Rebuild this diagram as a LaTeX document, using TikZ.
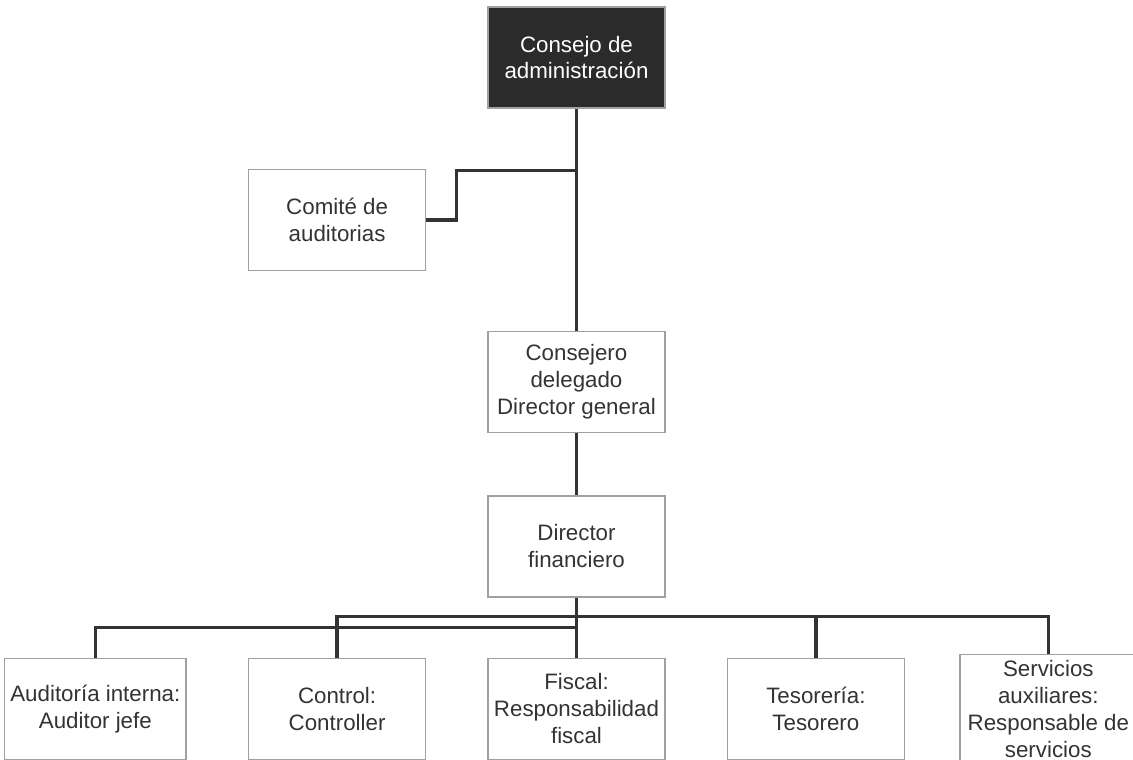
\documentclass[tikz,border=0pt]{standalone}
\usepackage{fontspec}
\setmainfont{Liberation Sans}
\usetikzlibrary{positioning}
\definecolor{boxgray}{HTML}{A0A0A0}
\definecolor{linegray}{HTML}{333333}
\definecolor{boarddark}{HTML}{2B2B2B}
\def\H{2.02cm}
\def\W{3.54cm}
\def\distV{4.44cm}
\def\distVs{1.24cm}
\def\distH{1.22cm}
\tikzstyle{every node} = [font=\fontsize{12.7}{15.3}\selectfont]
\tikzstyle{unit}  = [rectangle, minimum width=\W, minimum height=\H, align=center, draw=boxgray, line width=0.8pt, text=black!80]
\tikzstyle{board} = [unit, fill=boarddark, draw=boxgray, text=white]
\tikzstyle{link}  = [draw=linegray, line width=2pt]

\begin{document}
\begin{tikzpicture}
\useasboundingbox (-11.53,1.15) rectangle (11.13,-14.03);
% Objects
    % Board and committee
    \node (board)  [board]                                  {Consejo de\\administración};
    \node (audit)  [unit, left=\distH of board, yshift=-3.25cm] {Comité de\\auditorias};
    % Executives
    \node (ceo)    [unit, below=\distV of board]            {Consejero\\delegado\\Director general};
    \node (cfo)    [unit, below=\distVs of ceo]             {Director\\financiero};
    % Departments
    \node (fisc)   [unit, below=1.2cm of cfo]               {Fiscal:\\Responsabilidad\\fiscal};
    \node (ctrl)   [unit, left=\distH of fisc]              {Control:\\Controller};
    \node (intern) [unit, left=\distH of ctrl]              {Auditoría interna:\\Auditor jefe};
    \node (treas)  [unit, right=\distH of fisc]             {Tesorería:\\Tesorero};
    \node (serv)   [unit, right=\distH-0.14cm of treas]     {Servicios\\auxiliares:\\Responsable de\\servicios};
    % Junctions
    \coordinate (tap)  at ([yshift=-1.24cm]board.south);
    \coordinate (busA) at ([yshift=-0.38cm]cfo.south);
    \coordinate (busB) at ([yshift=-0.60cm]cfo.south);

% Arrows
    % Top
    \draw [link] (board) -- (ceo);
    \draw [link] (audit.east) -- ++(0.6,0) |- (tap);
    \draw [link] (ceo)   -- (cfo);
    % Departments
    \draw [link] (cfo)   -- (fisc);
    \draw [link] (ctrl)  |- (busA) -| (serv);
    \draw [link] (treas) -- (treas |- busA);
    \draw [link] (intern) |- (busB);
\end{tikzpicture}
\end{document}
